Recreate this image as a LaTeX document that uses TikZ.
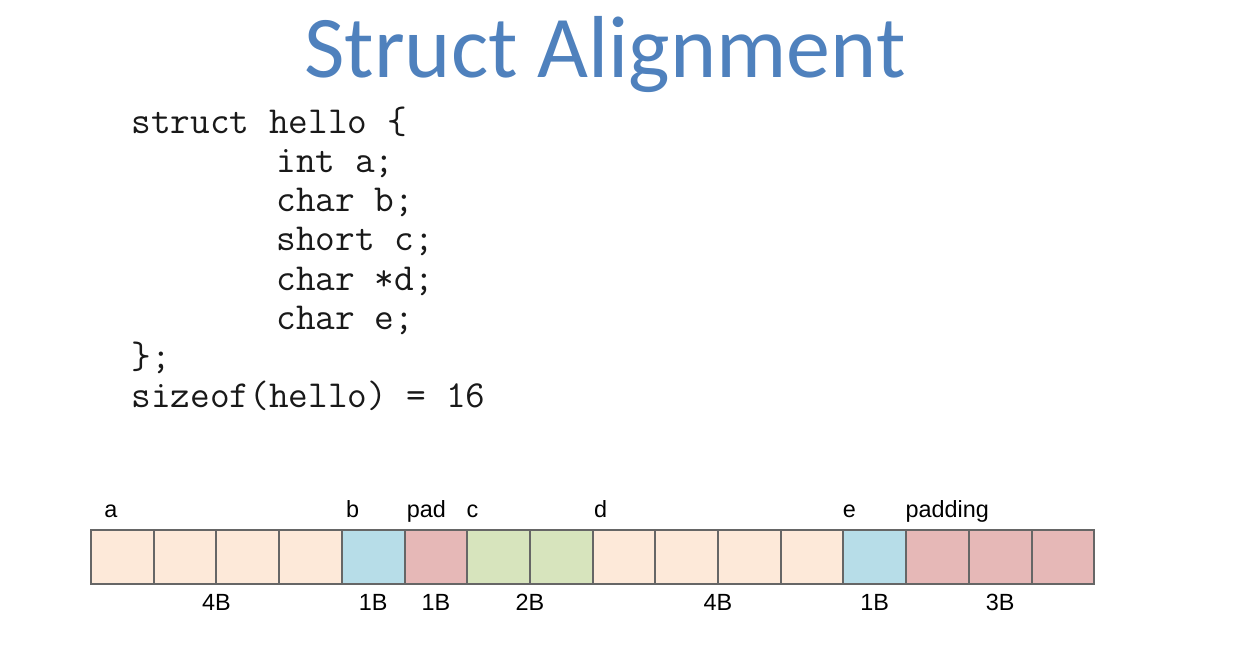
\documentclass[tikz,border=0pt]{standalone}
\usepackage{fontspec}
\setmainfont{Liberation Sans}
\newfontfamily\titlefont{Carlito}
\usetikzlibrary{positioning,calc}
\definecolor{TitleClr}{HTML}{4F81BD}
\definecolor{IntClr}{HTML}{FDE9D9}
\definecolor{CharClr}{HTML}{B7DDE8}
\definecolor{PadClr}{HTML}{E6B8B7}
\definecolor{ShortClr}{HTML}{D7E4BD}
\definecolor{CellLineClr}{HTML}{666666}

\begin{document}
\begin{tikzpicture}[x=0.5pt,y=-0.5pt,
  cell/.style={draw=CellLineClr,line width=1pt,minimum width=31.35pt,minimum height=27pt,inner sep=0pt,outer sep=0pt},
  field/.style={font=\fontsize{11.7}{13}\selectfont,inner sep=0pt,anchor=base west},
  bytes/.style={font=\fontsize{11.7}{13}\selectfont,inner sep=0pt,anchor=base},
  code/.style={font=\ttfamily\fontsize{19.1}{21}\selectfont,text=black!90,inner sep=0pt,anchor=base west}]

\useasboundingbox (0,0) rectangle (1241,645);

\node[font=\titlefont\fontsize{44}{50}\selectfont,text=TitleClr,inner sep=0pt,anchor=base] (title) at (605,77) {Struct Alignment};

% struct definition
\node[code] (s1) at (131,133) {struct hello \{};
\node[code] (s2) at (276,172) {int a;};
\node[code] (s3) at (276,211) {char b;};
\node[code] (s4) at (276,250) {short c;};
\node[code] (s5) at (276,290) {char *d;};
\node[code] (s6) at (276,329) {char e;};
\node[code] (s7) at (131,368) {\};};
\node[code] (s8) at (131,407) {sizeof(hello) = 16};

% memory layout
\foreach \clr [count=\i from 0] in {IntClr,IntClr,IntClr,IntClr,CharClr,PadClr,ShortClr,ShortClr,IntClr,IntClr,IntClr,IntClr,CharClr,PadClr,PadClr,PadClr}
  \node[cell,fill=\clr] (c\i) at ({91+62.7*(\i+0.5)},557) {};

\node[field] (fa) at ($(c0.north west)+(13,-13)$) {a};
\node[field] (fb) at ($(c4.north west)+(4,-13)$) {b};
\node[field] (fpad) at ($(c5.north west)+(2,-13)$) {pad};
\node[field] (fc) at ($(c6.north west)+(-1,-13)$) {c};
\node[field] (fd) at ($(c8.north west)+(1,-13)$) {d};
\node[field] (fe) at ($(c12.north west)+(-1,-13)$) {e};
\node[field] (fpadding) at ($(c13.north west)+(-1,-13)$) {padding};

\node[bytes] (ba) at ($(c1.south east)+(0,26)$) {4B};
\node[bytes] (bb) at ($(c4.south)+(0,26)$) {1B};
\node[bytes] (bpad) at ($(c5.south)+(0,26)$) {1B};
\node[bytes] (bc) at ($(c6.south east)+(0,26)$) {2B};
\node[bytes] (bd) at ($(c9.south east)+(0,26)$) {4B};
\node[bytes] (be) at ($(c12.south)+(0,26)$) {1B};
\node[bytes] (bpadding) at ($(c14.south)+(0,26)$) {3B};

\end{tikzpicture}
\end{document}
